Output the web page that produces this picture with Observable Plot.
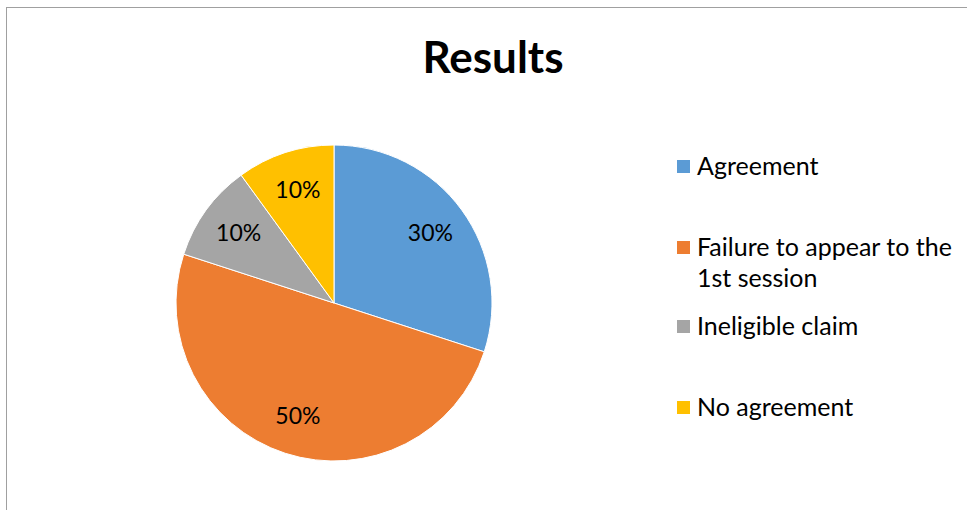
<!DOCTYPE html>
<html><head><meta charset="utf-8">
<script src="https://cdn.jsdelivr.net/npm/d3@7"></script>
<script src="https://cdn.jsdelivr.net/npm/@observablehq/plot@0.6"></script>
<style>
body{margin:0;background:#fff;}
#wrap{position:relative;width:967px;height:510px;overflow:hidden;font-family:Lato,sans-serif;color:#000;}
#frame{position:absolute;left:6px;top:7px;width:1000px;height:600px;border-left:1.5px solid #a0a0a0;border-top:1.5px solid #a0a0a0;}
#chart{position:absolute;left:0;top:0;}
#title{position:absolute;left:0;width:986px;top:34px;text-align:center;font-weight:700;font-size:44px;line-height:44px;}
.leg{position:absolute;left:677px;font-size:25px;line-height:31px;}
.sw{position:absolute;left:0;top:10px;width:13px;height:13px;}
.lt{margin-left:20px;width:285px;}
</style></head>
<body>
<div id="wrap">
  <div id="frame"></div>
  <div id="chart"></div>
  <div id="title"></div>
  <div id="legend"></div>
</div>
<script>
const title = "Results";
const categories = ["Agreement", "Failure to appear to the 1st session", "Ineligible claim", "No agreement"];
const values = [30, 50, 10, 10];
const colors = ["#5B9BD5", "#ED7D31", "#A5A5A5", "#FFC000"];
const legendTops = [150, 231, 310, 391];

const data = categories.map((c, i) => ({category: c, value: values[i]}));
const total = d3.sum(values);
const arcs = d3.pie().sort(null).value(d => d.value)(data);
const mid = a => (a.startAngle + a.endAngle) / 2;
const labelR = 0.75;

const pieMark = (index, scales) => {
  const cx = scales.x(0), cy = scales.y(0);
  const r = scales.x(1) - scales.x(0);
  const g = d3.create("svg:g").attr("transform", `translate(${cx},${cy})`);
  const arc = d3.arc().innerRadius(0).outerRadius(r);
  g.selectAll("path").data(arcs).join("path")
    .attr("d", arc)
    .attr("fill", d => scales.color(d.data.category))
    .attr("stroke", "#fff")
    .attr("stroke-width", 1);
  return g.node();
};

const chart = Plot.plot({
  width: 967,
  height: 510,
  marginLeft: 176,
  marginRight: 475,
  marginTop: 145,
  marginBottom: 49,
  x: {domain: [-1, 1], axis: null},
  y: {domain: [-1, 1], axis: null},
  color: {domain: categories, range: colors},
  style: {fontFamily: "Lato, sans-serif", background: "transparent"},
  marks: [
    Plot.dot(data, {x: 0, y: 0, r: 0, fill: "category"}),
    pieMark,
    Plot.text(arcs, {
      x: d => Math.sin(mid(d)) * labelR,
      y: d => Math.cos(mid(d)) * labelR,
      text: d => Math.round(d.data.value / total * 100) + "%",
      fontSize: 23,
      fill: "#000"
    })
  ]
});
document.getElementById("chart").appendChild(chart);
document.getElementById("title").textContent = title;

const legend = document.getElementById("legend");
categories.forEach((c, i) => {
  const item = document.createElement("div");
  item.className = "leg";
  item.style.top = legendTops[i] + "px";
  item.innerHTML = `<div class="sw" style="background:${colors[i]}"></div><div class="lt">${c}</div>`;
  legend.appendChild(item);
});
</script>
</body></html>
